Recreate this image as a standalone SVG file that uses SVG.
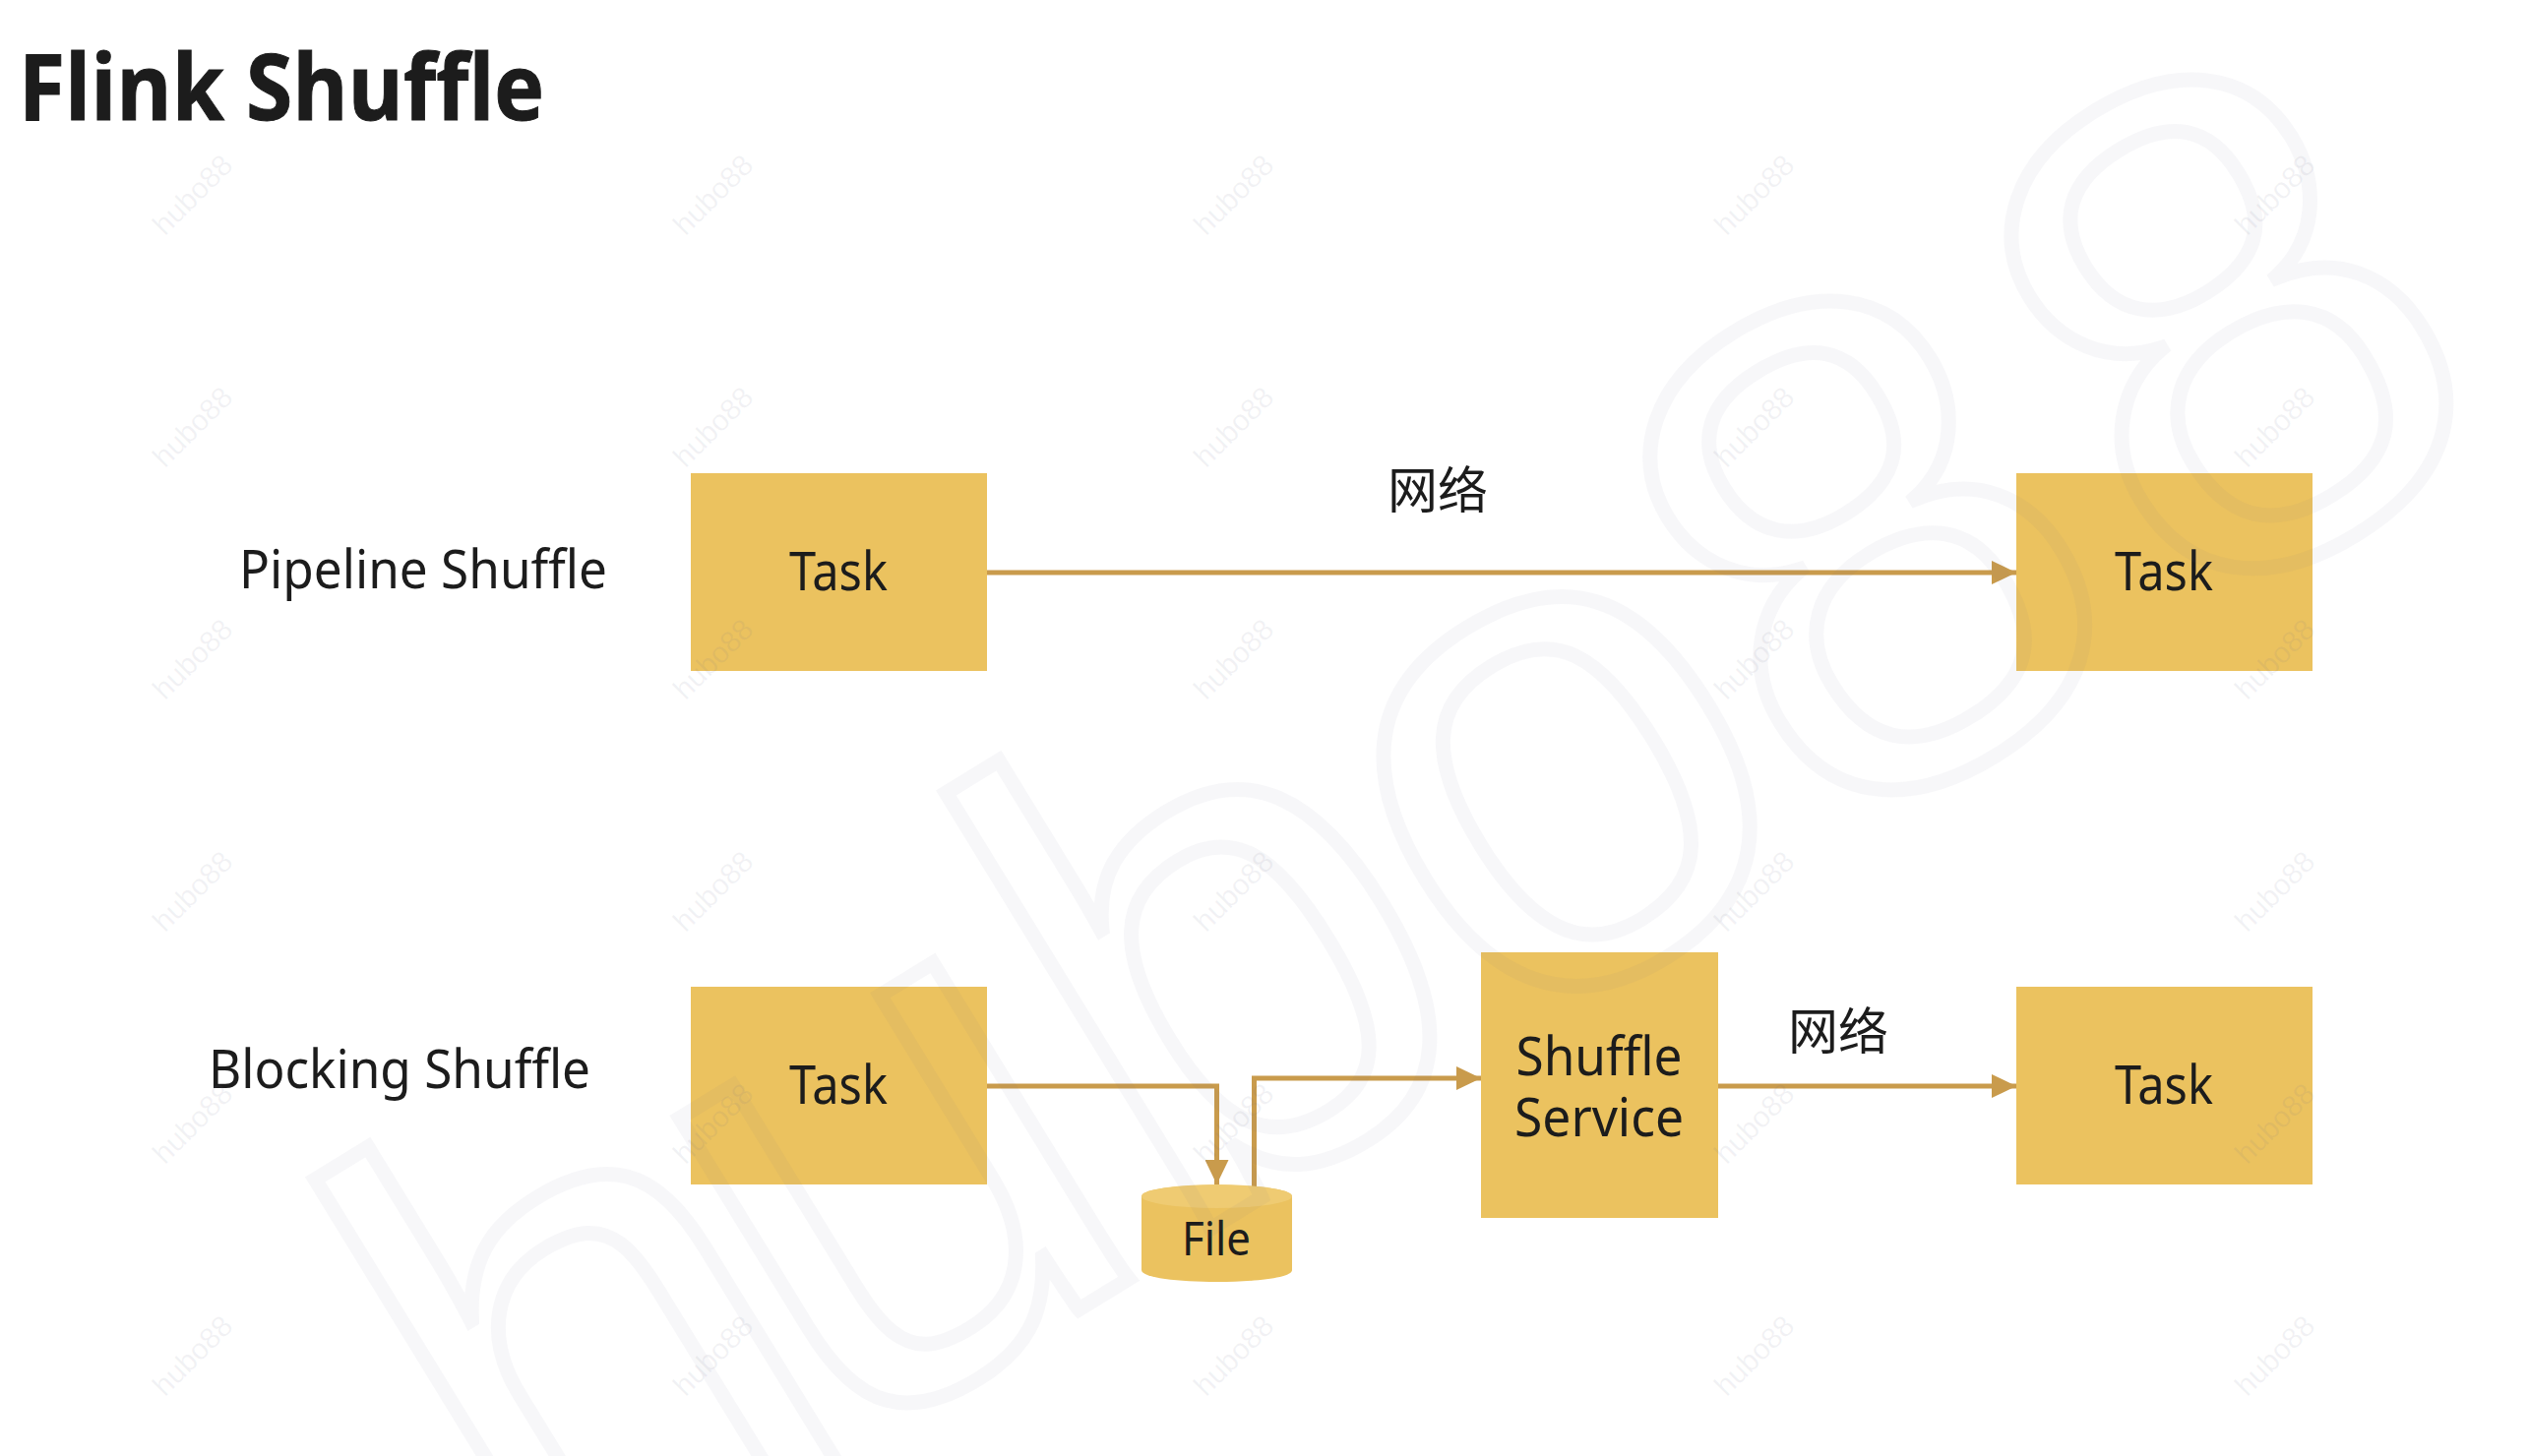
<svg xmlns="http://www.w3.org/2000/svg" width="2570" height="1480" viewBox="0 0 2570 1480">
<style>
.box{fill:#ebc25f}
.t{font-family:"Noto Sans","Open Sans","Noto Sans CJK SC",sans-serif;font-size:54px;fill:#1c1c1c}
.c{text-anchor:middle}
.zh{font-family:"Noto Sans CJK SC",sans-serif;font-size:51px;fill:#1c1c1c;text-anchor:middle}
.conn{fill:none;stroke:#c99b4c;stroke-width:5}
.wm{font-family:"Liberation Sans",Arial,sans-serif;font-size:30px;fill:#70708a;fill-opacity:.09;text-anchor:middle}
.big{font-family:"Liberation Sans",Arial,sans-serif;font-size:715px;fill:none;stroke:#70708a;stroke-opacity:.055;stroke-width:15;text-anchor:end}
</style>
<defs>
<marker id="arrow" markerUnits="userSpaceOnUse" markerWidth="26" markerHeight="24" refX="25" refY="12" orient="auto"><path d="M0 0L25 12L0 24z" fill="#c99b4c"/></marker>
</defs>
<rect width="2570" height="1480" fill="#fff"/>
<text id="title" x="19" y="122" font-family="Open Sans,Noto Sans,sans-serif" font-weight="700" font-size="94" fill="#1c1c1c" stroke="#1c1c1c" stroke-width="1" textLength="534" lengthAdjust="spacingAndGlyphs">Flink Shuffle</text>
<g id="connectors">
<path class="conn" d="M1003 582H2049" marker-end="url(#arrow)"/>
<path class="conn" d="M1003 1104H1236.500V1204" marker-end="url(#arrow)"/>
<path class="conn" d="M1274.500 1207V1096H1505" marker-end="url(#arrow)"/>
<path class="conn" d="M1746 1104H2049" marker-end="url(#arrow)"/>
</g>
<g id="label-pipeline"><text class="t" x="243" y="598" textLength="374" lengthAdjust="spacingAndGlyphs">Pipeline Shuffle</text></g>
<g id="label-blocking"><text class="t" x="212" y="1106" textLength="388" lengthAdjust="spacingAndGlyphs">Blocking Shuffle</text></g>
<g id="task-1"><rect class="box" x="702" y="481" width="301" height="201"/><text class="t c" x="852" y="600" textLength="100" lengthAdjust="spacingAndGlyphs">Task</text></g>
<g id="task-2"><rect class="box" x="2049" y="481" width="301" height="201"/><text class="t c" x="2199" y="600" textLength="100" lengthAdjust="spacingAndGlyphs">Task</text></g>
<g id="task-3"><rect class="box" x="702" y="1003" width="301" height="201"/><text class="t c" x="852" y="1122" textLength="100" lengthAdjust="spacingAndGlyphs">Task</text></g>
<g id="task-4"><rect class="box" x="2049" y="1003" width="301" height="201"/><text class="t c" x="2199" y="1122" textLength="100" lengthAdjust="spacingAndGlyphs">Task</text></g>
<g id="shuffle-service"><rect class="box" x="1505" y="968" width="241" height="270"/><text class="t c" x="1625" y="1093" textLength="169" lengthAdjust="spacingAndGlyphs">Shuffle</text><text class="t c" x="1625" y="1155" textLength="172" lengthAdjust="spacingAndGlyphs">Service</text></g>
<g id="file"><path class="box" d="M1160 1216C1160 1201 1313 1201 1313 1216V1291C1313 1307 1160 1307 1160 1291Z"/><ellipse cx="1236.500" cy="1216" rx="76.500" ry="12" fill="#efcb72"/><text class="t c" x="1236" y="1276" style="font-size:47px" textLength="70" lengthAdjust="spacingAndGlyphs">File</text></g>
<g id="label-net-1"><text class="zh" x="1461" y="517">网络</text></g>
<g id="label-net-2"><text class="zh" x="1868" y="1067">网络</text></g>
<g id="watermark">
<text class="big" transform="translate(2560 434) rotate(-31.500)" dx="0 -46 4 -10 -8 33">hubo88</text>
<g id="small-marks">
<text class="wm" transform="translate(203 205) rotate(-45)">hubo88</text><text class="wm" transform="translate(732 205) rotate(-45)">hubo88</text><text class="wm" transform="translate(1261 205) rotate(-45)">hubo88</text><text class="wm" transform="translate(1790 205) rotate(-45)">hubo88</text><text class="wm" transform="translate(2319 205) rotate(-45)">hubo88</text>
<text class="wm" transform="translate(203 441) rotate(-45)">hubo88</text><text class="wm" transform="translate(732 441) rotate(-45)">hubo88</text><text class="wm" transform="translate(1261 441) rotate(-45)">hubo88</text><text class="wm" transform="translate(1790 441) rotate(-45)">hubo88</text><text class="wm" transform="translate(2319 441) rotate(-45)">hubo88</text>
<text class="wm" transform="translate(203 677) rotate(-45)">hubo88</text><text class="wm" transform="translate(732 677) rotate(-45)">hubo88</text><text class="wm" transform="translate(1261 677) rotate(-45)">hubo88</text><text class="wm" transform="translate(1790 677) rotate(-45)">hubo88</text><text class="wm" transform="translate(2319 677) rotate(-45)">hubo88</text>
<text class="wm" transform="translate(203 913) rotate(-45)">hubo88</text><text class="wm" transform="translate(732 913) rotate(-45)">hubo88</text><text class="wm" transform="translate(1261 913) rotate(-45)">hubo88</text><text class="wm" transform="translate(1790 913) rotate(-45)">hubo88</text><text class="wm" transform="translate(2319 913) rotate(-45)">hubo88</text>
<text class="wm" transform="translate(203 1149) rotate(-45)">hubo88</text><text class="wm" transform="translate(732 1149) rotate(-45)">hubo88</text><text class="wm" transform="translate(1261 1149) rotate(-45)">hubo88</text><text class="wm" transform="translate(1790 1149) rotate(-45)">hubo88</text><text class="wm" transform="translate(2319 1149) rotate(-45)">hubo88</text>
<text class="wm" transform="translate(203 1385) rotate(-45)">hubo88</text><text class="wm" transform="translate(732 1385) rotate(-45)">hubo88</text><text class="wm" transform="translate(1261 1385) rotate(-45)">hubo88</text><text class="wm" transform="translate(1790 1385) rotate(-45)">hubo88</text><text class="wm" transform="translate(2319 1385) rotate(-45)">hubo88</text>
</g>
</g>
</svg>
